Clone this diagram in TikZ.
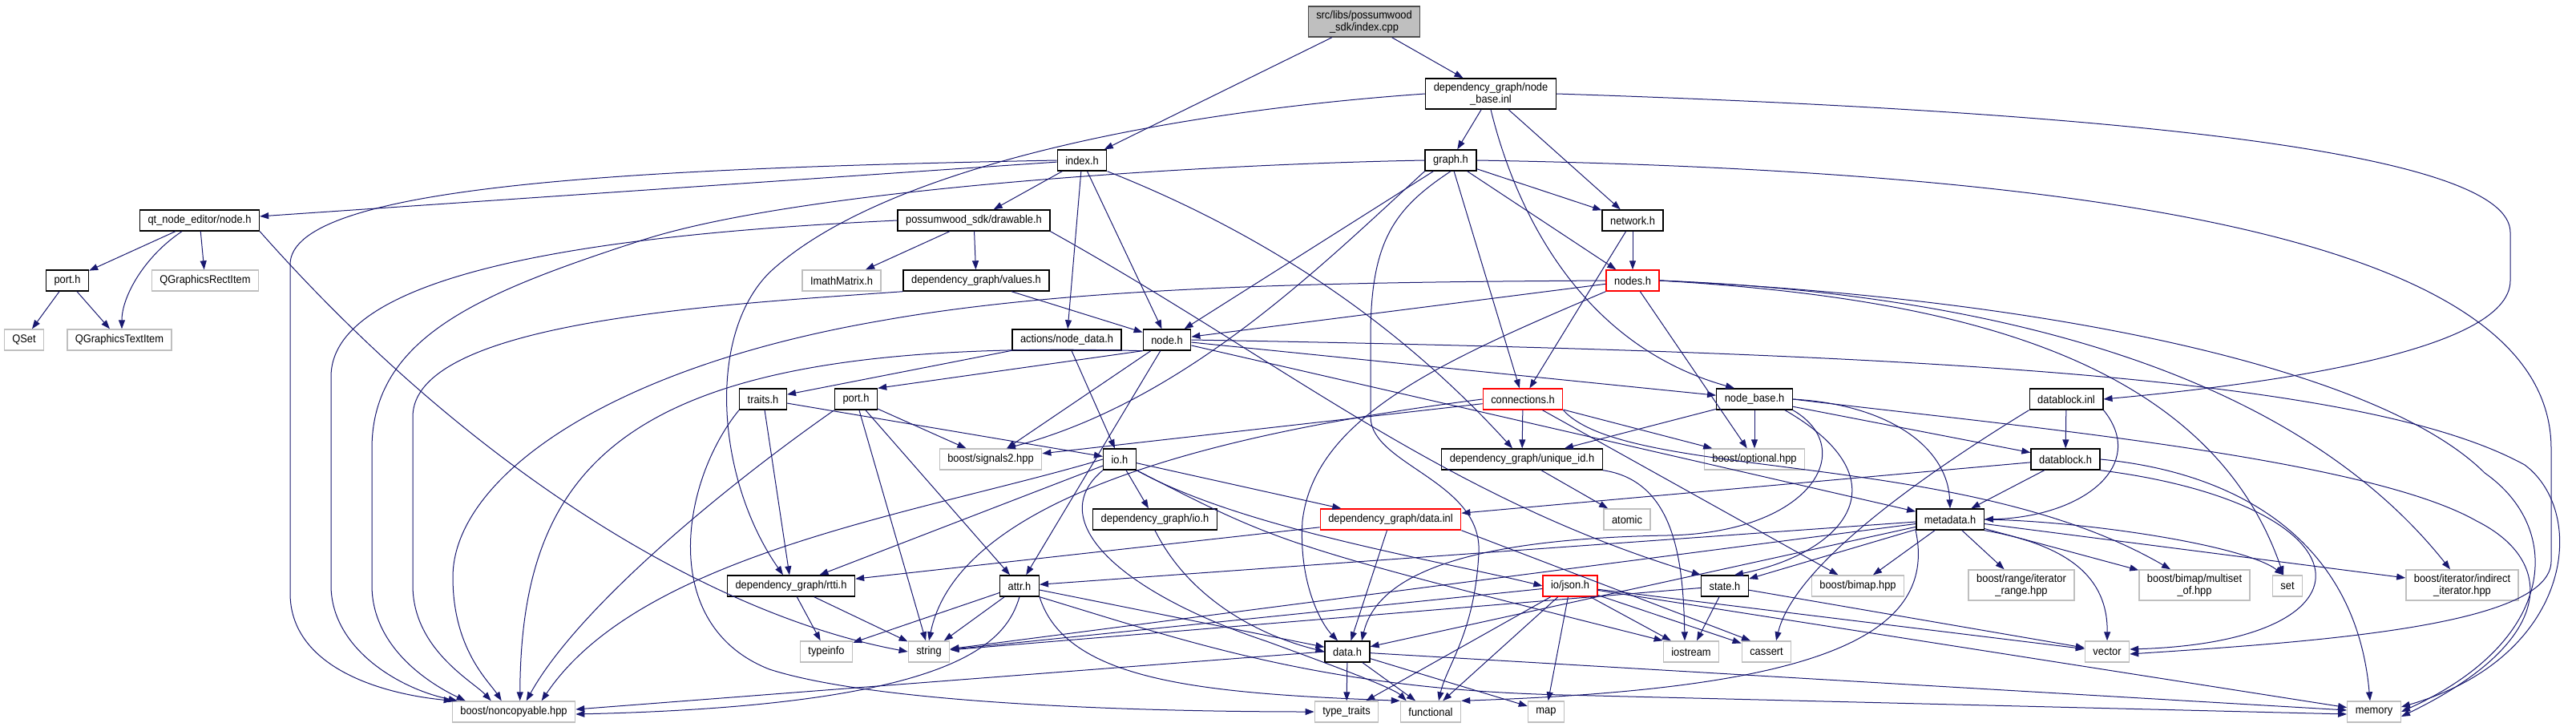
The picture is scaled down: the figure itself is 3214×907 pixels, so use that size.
\documentclass[tikz,border=0pt]{standalone}
\usepackage{fontspec}
\newfontfamily\doxfont[FakeStretch=0.92]{Liberation Sans}
\usepackage{tikz}
\usetikzlibrary{arrows.meta}
\usepackage{xcolor}
\definecolor{edgeblue}{RGB}{25,25,112}
\definecolor{boxgrey}{RGB}{191,191,191}
\definecolor{boxred}{RGB}{255,0,0}

\tikzset{
  hdr/.style={draw=black, line width=1.4pt, fill=white, minimum height=26pt,
    inner xsep=10pt, inner ysep=5pt, align=center,
    font=\doxfont\fontsize{14}{15}\selectfont},
  sys/.style={hdr, draw=boxgrey},
  bad/.style={hdr, draw=boxred},
  root/.style={hdr, fill=boxgrey, draw=black!70},
  dep/.style={draw=edgeblue, line width=1pt, -{Triangle[length=11pt,width=8pt]}}
}

\begin{document}
\begin{tikzpicture}[x=1pt, y=-1pt]
  \useasboundingbox (0,0) rectangle (3214,907);
  % files
  \node[root] (cpp) at (1702,27) {src/libs/possumwood\\\_sdk/index.cpp};
  \node[hdr] (nbinl) at (1860,117) {dependency\_graph/node\\\_base.inl};
  \node[hdr] (indexh) at (1350,200) {index.h};
  \node[hdr] (graphh) at (1810,200) {graph.h};
  \node[hdr] (qtnode) at (249,275) {qt\_node\_editor/node.h};
  \node[hdr] (drawable) at (1215,275) {possumwood\_sdk/drawable.h};
  \node[hdr] (network) at (2037,275) {network.h};
  \node[hdr] (qtport) at (84,350) {port.h};
  \node[sys] (qrect) at (256,350) {QGraphicsRectItem};
  \node[sys] (imath) at (1050,350) {ImathMatrix.h};
  \node[hdr] (values) at (1218,350) {dependency\_graph/values.h};
  \node[bad] (nodes) at (2037,350) {nodes.h};
  \node[sys] (qset) at (30,424) {QSet};
  \node[sys] (qtext) at (149,424) {QGraphicsTextItem};
  \node[hdr] (nodedata) at (1331,424) {actions/node\_data.h};
  \node[hdr] (nodeh) at (1456,424) {node.h};
  \node[hdr] (traits) at (952,498) {traits.h};
  \node[hdr] (port) at (1068,498) {port.h};
  \node[bad] (conn) at (1900,498) {connections.h};
  \node[hdr] (nbh) at (2189,498) {node\_base.h};
  \node[hdr] (dbinl) at (2578,498) {datablock.inl};
  \node[sys] (signals) at (1236,573) {boost/signals2.hpp};
  \node[hdr] (ioh) at (1397,573) {io.h};
  \node[hdr] (uid) at (1899,573) {dependency\_graph/unique\_id.h};
  \node[sys] (optional) at (2189,573) {boost/optional.hpp};
  \node[hdr] (dbh) at (2577,573) {datablock.h};
  \node[hdr] (dgio) at (1441,648) {dependency\_graph/io.h};
  \node[bad] (datainl) at (1735,648) {dependency\_graph/data.inl};
  \node[sys] (atomic) at (2030,648) {atomic};
  \node[hdr] (meta) at (2433,648) {metadata.h};
  \node[hdr] (rtti) at (987,731) {dependency\_graph/rtti.h};
  \node[hdr] (attr) at (1272,731) {attr.h};
  \node[bad] (json) at (1959,731) {io/json.h};
  \node[hdr] (state) at (2152,731) {state.h};
  \node[sys] (bimap) at (2318,731) {boost/bimap.hpp};
  \node[sys] (range) at (2522,730) {boost/range/iterator\\\_range.hpp};
  \node[sys] (multiset) at (2738,730) {boost/bimap/multiset\\\_of.hpp};
  \node[sys] (set) at (2854,731) {set};
  \node[sys] (indirect) at (3072,730) {boost/iterator/indirect\\\_iterator.hpp};
  \node[sys] (typeinfo) at (1031,813) {typeinfo};
  \node[sys] (string) at (1159,813) {string};
  \node[hdr] (datah) at (1681,813) {data.h};
  \node[sys] (iostream) at (2110,813) {iostream};
  \node[sys] (cassert) at (2204,813) {cassert};
  \node[sys] (vector) at (2629,813) {vector};
  \node[sys] (noncopy) at (641,888) {boost/noncopyable.hpp};
  \node[sys] (typetraits) at (1680,888) {type\_traits};
  \node[sys] (functional) at (1785,888) {functional};
  \node[sys] (map) at (1929,888) {map};
  \node[sys] (memory) at (2962,888) {memory};

  % straight includes
  \foreach \src/\dst in {cpp/indexh, cpp/nbinl, nbinl/graphh, nbinl/network,
      indexh/qtnode, indexh/drawable, indexh/nodedata, indexh/nodeh,
      graphh/network, graphh/nodes, graphh/conn, graphh/nodeh,
      qtnode/qtport, qtnode/qrect, qtport/qset, qtport/qtext,
      drawable/imath, drawable/values, values/nodeh,
      network/nodes, network/conn, nodes/nodeh, nodes/optional,
      nodedata/traits, nodedata/ioh,
      nodeh/signals, nodeh/attr, nodeh/nbh, nodeh/meta,
      traits/rtti, traits/ioh, port/signals, port/string, port/attr,
      conn/signals, conn/uid, conn/optional, conn/bimap,
      nbh/uid, nbh/optional, nbh/dbh, dbinl/dbh,
      ioh/rtti, ioh/dgio, ioh/datainl, uid/atomic,
      dbh/meta, dbh/datainl, datainl/rtti, datainl/datah,
      meta/range, meta/multiset, meta/indirect, meta/bimap, meta/state,
      meta/datah, meta/attr, meta/string,
      rtti/typeinfo, rtti/string, attr/typeinfo, attr/string, attr/datah,
      json/string, json/typetraits, json/functional, json/map, json/iostream,
      json/cassert, json/vector, json/memory,
      state/string, state/iostream, state/vector,
      datah/typetraits, datah/functional, datah/map, datah/memory} {
    \draw[dep] (\src) -- (\dst);
  }
  \draw[dep] (nodeh.south west) -- (port.north east);
  \draw[dep] (datainl.south east) -- ([xshift=-20pt]cassert.north);

  % long routed includes
  \draw[dep] (nbinl.east) .. controls (2650,140) and (3132,190) .. (3132,290) -- (3132,350)
    .. controls (3132,440) and (2820,480) .. (dbinl.east);
  \draw[dep] (graphh.east) .. controls (2750,215) and (3183,330) .. (3183,560) -- (3183,700)
    .. controls (3183,780) and (2900,800) .. ([yshift=-3pt]vector.east);
  \draw[dep] (nbinl.south) .. controls (1890,260) and (1970,430) .. ([xshift=-25pt]nbh.north);
  \draw[dep] (nbinl.west) .. controls (1450,140) and (1100,210) .. (960,340)
    .. controls (880,420) and (895,600) .. ([xshift=-10pt]rtti.north);
  \draw[dep] (indexh.west) .. controls (800,210) and (362,230) .. (362,330) -- (362,740)
    .. controls (362,830) and (470,865) .. ([xshift=1pt]noncopy.north west);
  \draw[dep] (drawable.west) .. controls (800,290) and (413,330) .. (413,470) -- (413,730)
    .. controls (413,810) and (500,860) .. ([xshift=7pt]noncopy.north west);
  \draw[dep] (graphh.west) .. controls (1500,205) and (1000,235) .. (800,300)
    .. controls (600,365) and (464,420) .. (464,560) -- (464,730)
    .. controls (464,810) and (540,855) .. ([xshift=17pt]noncopy.north west);
  \draw[dep] (values.south west) .. controls (900,380) and (515,400) .. (515,520) -- (515,730)
    .. controls (515,810) and (590,850) .. ([xshift=49pt]noncopy.north west);
  \draw[dep] (nodes.west) .. controls (1700,352) and (1350,355) .. (1100,400)
    .. controls (750,460) and (565,600) .. (565,720)
    .. controls (565,810) and (610,850) .. ([xshift=62pt]noncopy.north west);
  \draw[dep] (nodeh.south west) .. controls (800,420) and (650,560) .. ([xshift=85pt]noncopy.north west);
  \draw[dep] (port.south west) .. controls (900,610) and (720,760) .. ([xshift=93pt]noncopy.north west);
  \draw[dep] (ioh.west) .. controls (1150,640) and (800,690) .. ([xshift=112pt]noncopy.north west);
  \draw[dep] (attr.south) .. controls (1255,800) and (1200,880) .. ([yshift=-3pt]noncopy.east);
  \draw[dep] (datah.west) -- ([yshift=3pt]noncopy.east);
  \draw[dep] (qtnode.south east) .. controls (600,600) and (900,770) .. (string.west);
  \draw[dep] ([xshift=-22pt]qtnode.south) .. controls (180,320) and (152,370) .. ([xshift=3pt]qtext.north);
  \draw[dep] (indexh.south east) .. controls (1600,300) and (1760,420) .. ([xshift=-12pt]uid.north);
  \draw[dep] (graphh.south west) .. controls (1650,330) and (1480,500) .. ([xshift=20pt]signals.north);
  \draw[dep] (graphh.south) .. controls (1740,260) and (1710,300) .. (1710,420) -- (1710,520)
    .. controls (1710,580) and (1850,600) .. (1845,690)
    .. controls (1840,790) and (1805,830) .. ([xshift=10pt]functional.north);
  \draw[dep] (traits.south west) .. controls (850,600) and (820,780) .. (960,835)
    .. controls (1100,880) and (1450,888) .. (typetraits.west);
  \draw[dep] (drawable.south east) .. controls (1600,450) and (1800,620) .. (state.north west);
  \draw[dep] (nodes.south west) .. controls (1800,450) and (1640,520) .. (1625,650)
    .. controls (1620,730) and (1650,780) .. ([xshift=-12pt]datah.north);
  \draw[dep] (nodes.east) .. controls (2400,370) and (2750,430) .. ([xshift=-5pt]set.north);
  \draw[dep] (nodes.east) .. controls (2450,365) and (2850,450) .. ([xshift=-15pt]indirect.north);
  \draw[dep] (nodes.east) .. controls (2600,375) and (2980,470) .. (3100,590)
    .. controls (3200,660) and (3190,800) .. (memory.east);
  \draw[dep] (nodeh.east) .. controls (2400,440) and (2950,470) .. (3150,580)
    .. controls (3230,640) and (3210,820) .. ([yshift=6pt]memory.east);
  \draw[dep] (nbh.east) .. controls (2500,530) and (2950,570) .. (3090,650)
    .. controls (3190,700) and (3190,800) .. ([yshift=-6pt]memory.east);
  \draw[dep] (nbh.east) .. controls (2360,505) and (2430,560) .. (meta.north);
  \draw[dep] ([xshift=-10pt]nbh.south east) .. controls (2380,600) and (2300,690) .. ([xshift=12pt]state.north);
  \draw[dep] (nbh.south east) .. controls (2320,560) and (2260,665) .. (2080,668)
    .. controls (1850,672) and (1720,710) .. ([xshift=18pt]datah.north);
  \draw[dep] (dbinl.south east) .. controls (2680,580) and (2600,645) .. (meta.east);
  \draw[dep] (dbinl.south west) .. controls (2420,580) and (2240,700) .. ([xshift=12pt]cassert.north);
  \draw[dep] (dbh.east) .. controls (2800,590) and (2940,680) .. ([xshift=-5pt]memory.north);
  \draw[dep] (dbh.south east) .. controls (2960,630) and (2980,800) .. ([yshift=3pt]vector.east);
  \draw[dep] (meta.south east) .. controls (2580,680) and (2630,720) .. (vector.north);
  \draw[dep] (meta.east) .. controls (2600,650) and (2800,680) .. ([xshift=-5pt]set.north);
  \draw[dep] (meta.south west) .. controls (2420,800) and (2250,860) .. (functional.north east);
  \draw[dep] (uid.south east) .. controls (2090,600) and (2100,700) .. ([xshift=-8pt]iostream.north);
  \draw[dep] (ioh.south east) .. controls (1550,660) and (1800,700) .. (json.west);
  \draw[dep] (ioh.south east) .. controls (1600,680) .. (iostream.north west);
  \draw[dep] (ioh.south west) .. controls (1300,650) and (1400,740) .. (1580,800)
    .. controls (1690,840) and (1740,860) .. ([xshift=8pt]functional.north west);
  \draw[dep] (attr.south east) .. controls (1330,850) and (1500,865) .. (functional.north west);
  \draw[dep] (attr.south east) .. controls (1480,800) and (1650,860) .. (1950,867)
    -- ([yshift=-3pt]memory.west);
  \draw[dep] (dgio.south) .. controls (1480,740) and (1560,790) .. (datah.west);
  \draw[dep] (conn.west) .. controls (1600,530) and (1200,600) .. (string.north);
  \draw[dep] (conn.south east) .. controls (2030,600) and (2450,560) .. ([xshift=-30pt]multiset.north);
\end{tikzpicture}
\end{document}
